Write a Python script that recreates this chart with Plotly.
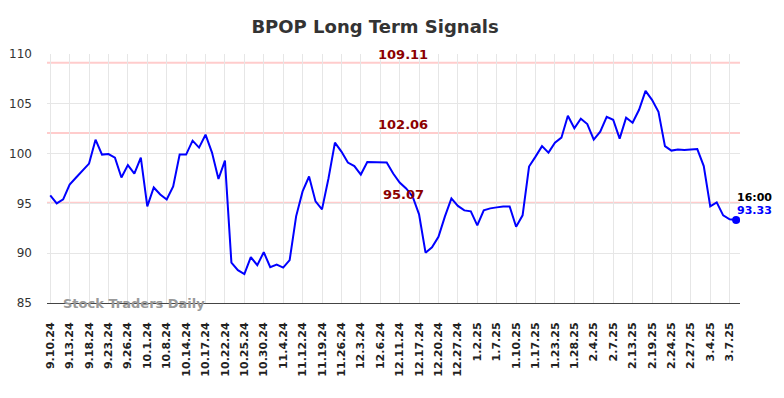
import plotly.graph_objects as go

values = [95.8, 95.0, 95.4, 96.9, 97.6, 98.3, 99.0, 101.4, 99.9, 99.95,
          99.6, 97.6, 98.85, 98.0, 99.6, 94.7, 96.6, 95.9, 95.4, 96.7,
          99.9, 99.9, 101.3, 100.6, 101.9, 100.1, 97.45, 99.3, 89.05, 88.3,
          87.9, 89.6, 88.8, 90.1, 88.6, 88.85, 88.55, 89.3, 93.7, 96.2,
          97.7, 95.2, 94.4, 97.5, 101.1, 100.2, 99.1, 98.75, 97.9, 99.15,
          99.15, 99.15, 99.1, 98.0, 97.1, 96.5, 95.7, 93.9, 90.05, 90.6,
          91.65, 93.7, 95.5, 94.75, 94.3, 94.2, 92.8, 94.3, 94.5, 94.6,
          94.7, 94.7, 92.65, 93.8, 98.7, 99.7, 100.75, 100.1, 101.1, 101.6,
          103.8, 102.55, 103.5, 102.97, 101.4, 102.2, 103.7, 103.4, 101.5, 103.6,
          103.1, 104.4, 106.3, 105.4, 104.2, 100.75, 100.3, 100.4, 100.35, 100.4,
          100.45, 98.75, 94.7, 95.1, 93.8, 93.4, 93.33]

tick_labels = ["9.10.24", "9.13.24", "9.18.24", "9.23.24", "9.26.24", "10.1.24",
               "10.8.24", "10.14.24", "10.17.24", "10.22.24", "10.25.24", "10.30.24",
               "11.4.24", "11.12.24", "11.19.24", "11.26.24", "12.3.24", "12.6.24",
               "12.11.24", "12.17.24", "12.20.24", "12.27.24", "1.2.25", "1.7.25",
               "1.10.25", "1.17.25", "1.23.25", "1.28.25", "2.4.25", "2.7.25",
               "2.13.25", "2.19.25", "2.24.25", "2.27.25", "3.4.25", "3.7.25"]
tick_step = 3

levels = [109.11, 102.06, 95.07]
last_time = "16:00"

x = list(range(len(values)))
tickvals = [i * tick_step for i in range(len(tick_labels))]
ticktext = [f"<b>{t}</b>" for t in tick_labels]

fig = go.Figure()
fig.add_trace(go.Scatter(x=x, y=values, mode="lines",
                         line=dict(color="#0000ff", width=2), hoverinfo="skip"))
fig.add_trace(go.Scatter(x=[x[-1]], y=[values[-1]], mode="markers",
                         marker=dict(color="#0000ff", size=8), hoverinfo="skip"))

for lv in levels:
    fig.add_hline(y=lv, line=dict(color="#ffcccc", width=2), layer="below")
    fig.add_annotation(x=0.514, xref="paper", y=lv, yref="y", text=f"<b>{lv:.2f}</b>",
                       showarrow=False, yanchor="bottom", yshift=-1,
                       font=dict(color="#8b0000", size=13, family="DejaVu Sans"))

fig.add_annotation(x=x[-1], y=values[-1], text=f"<b>{last_time}</b>", showarrow=False,
                   xanchor="left", yanchor="bottom", xshift=-1, yshift=14,
                   font=dict(color="#000000", size=11, family="DejaVu Sans"))
fig.add_annotation(x=x[-1], y=values[-1], text=f"<b>{values[-1]:.2f}</b>", showarrow=False,
                   xanchor="left", yanchor="bottom", xshift=-1, yshift=1,
                   font=dict(color="#0000ff", size=11, family="DejaVu Sans"))

fig.add_annotation(x=0.02, xref="paper", y=85, yref="y", text="<b>Stock Traders Daily</b>",
                   showarrow=False, xanchor="left", yanchor="middle",
                   font=dict(color="#999999", size=13, family="DejaVu Sans"))

fig.update_layout(
    width=776, height=390,
    margin=dict(l=39, r=44, t=46, b=95, autoexpand=False),
    paper_bgcolor="white", plot_bgcolor="white",
    showlegend=False,
    title=dict(text="<b>BPOP Long Term Signals</b>", x=0.473, xanchor="center",
               y=0.951, yanchor="middle",
               font=dict(size=18, color="#333333", family="DejaVu Sans")),
    font=dict(family="DejaVu Sans", color="#333333"),
)
fig.update_xaxes(range=[-0.5, 106.6], tickmode="array", tickvals=tickvals, ticktext=ticktext,
                 tickangle=-90, showgrid=True, gridcolor="#e6e6e6", gridwidth=1,
                 zeroline=False, showline=True, linecolor="#444444", linewidth=1,
                 ticks="", ticklabelstandoff=14,
                 tickfont=dict(size=11, color="#222222", family="DejaVu Sans"))
fig.update_yaxes(range=[85, 110], tickmode="array", tickvals=[85, 90, 95, 100, 105, 110],
                 showgrid=True, gridcolor="#e6e6e6", gridwidth=1, zeroline=False,
                 showline=False, ticks="", ticklabelstandoff=14,
                 tickfont=dict(size=12, color="#333333", family="DejaVu Sans"))

fig.write_html("out.html")
